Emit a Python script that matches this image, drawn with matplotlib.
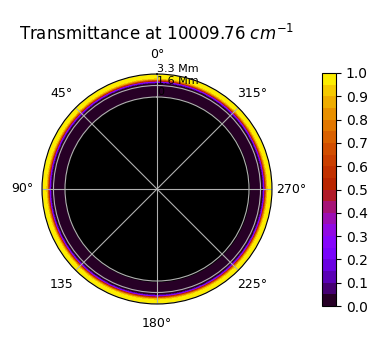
import numpy as np
import matplotlib
matplotlib.use("Agg")
import matplotlib.pyplot as plt

# altitude above the surface (Mm) and transmittance profile
altitude_mm = [0.0, 1.0, 1.8, 2.0, 2.1, 2.2, 2.3, 2.4, 2.5, 2.6, 2.7, 2.8, 3.0, 3.3]
transmittance = [0.0, 0.0, 0.01, 0.04, 0.12, 0.28, 0.45, 0.62, 0.76, 0.87, 0.94, 0.97, 0.99, 1.0]
theta_tick_deg = [0, 45, 90, 135, 180, 225, 270, 315]
theta_tick_labels = ['0°', '45°', '90°', '135', '180°', '225°', '270°', '315°']
r_tick_alt = [0.0, 1.65, 3.3]
r_tick_labels = ['0', '1.6 Mm', '3.3 Mm']
levels = np.linspace(0, 1, 21)
cbar_ticks = [0.0, 0.1, 0.2, 0.3, 0.4, 0.5, 0.6, 0.7, 0.8, 0.9, 1.0]

R0 = 13.2  # display radius of the surface

fig = plt.figure(figsize=(3.74, 3.42), dpi=100)
ax = fig.add_axes([42/374, 38/342, 230/374, 230/342], projection='polar')
ax.set_theta_zero_location('N')
ax.set_theta_direction(1)

th = np.linspace(0, 2*np.pi, 361)
alt = np.array(altitude_mm)
TH, AL = np.meshgrid(th, alt)
T = np.tile(np.array(transmittance)[:, None], (1, len(th)))
cf = ax.contourf(TH, R0 + AL, T, levels=levels, cmap='gnuplot')
ax.fill_between(th, 0, R0, color='black', zorder=1)

ax.set_ylim(0, R0 + alt[-1])
ax.set_yticks([R0 + a for a in r_tick_alt])
ax.set_yticklabels(r_tick_labels, fontsize=8)
ax.set_rlabel_position(0)
ax.set_xticks(np.deg2rad(theta_tick_deg))
ax.set_xticklabels(theta_tick_labels, fontsize=9)
ax.grid(True, color='#b0b0b0')
ax.set_title('Transmittance at 10009.76 $cm^{-1}$', fontsize=12)

cax = fig.add_axes([322/374, 36/342, 14/374, 233/342])
cb = fig.colorbar(cf, cax=cax, ticks=cbar_ticks)
cb.ax.tick_params(labelsize=10)

fig.savefig('out.png', dpi=100)
